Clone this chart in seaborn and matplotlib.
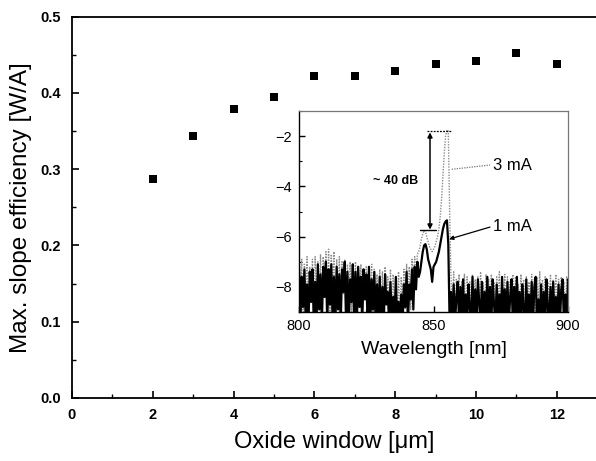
import numpy as np
import pandas as pd
import seaborn as sns
import matplotlib.pyplot as plt
from matplotlib.ticker import MultipleLocator

# ---------------- data ----------------
oxide_window = [2, 3, 4, 5, 6, 7, 8, 9, 10, 11, 12]
slope_efficiency = [0.287, 0.343, 0.379, 0.395, 0.422, 0.422, 0.429, 0.438, 0.442, 0.453, 0.438]

# inset spectra, sampled every 0.5 nm from 800 to 900 nm
wavelength = np.linspace(800, 900, 201)
spec_1mA = [
    -7.2, -9.5, -7.6, -8.8, -7.3, -9.5, -7.9, -9.5, -7.4, -8.6,
    -7.3, -9.5, -7.8, -9.5, -7.1, -8.9, -7.5, -9.5, -7.2, -8.4,
    -7.0, -9.5, -7.3, -8.7, -7.1, -9.5, -7.6, -9.5, -7.2, -8.9,
    -7.5, -9.5, -7.3, -8.2, -7.0, -9.5, -7.4, -9.5, -7.7, -8.6,
    -7.1, -9.5, -7.4, -9.5, -7.2, -8.8, -7.6, -9.5, -7.3, -8.5,
    -7.5, -9.5, -7.2, -9.5, -7.7, -8.9, -7.4, -9.5, -7.9, -9.5,
    -7.6, -9.5, -8.0, -9.5, -7.5, -8.7, -8.2, -9.5, -7.8, -9.5,
    -8.4, -9.5, -7.6, -9.5, -8.6, -9.5, -8.3, -9.5, -7.9, -8.8,
    -7.4, -9.5, -7.9, -8.5, -7.3, -8.9, -7.2, -8.1, -7.0, -7.6,
    -7.4, -7.0, -6.6, -6.35, -6.3, -6.5, -6.9, -7.1, -7.3, -7.8,
    -7.2, -7.1, -7.0, -6.8, -6.6, -6.3, -6.0, -5.7, -5.5, -5.4,
    -5.35, -6.3, -9.5, -8.2, -9.5, -7.9, -9.5, -8.4, -7.8, -9.5,
    -8.0, -9.5, -7.7, -9.5, -8.3, -9.5, -7.9, -8.8, -9.5, -7.6,
    -9.5, -8.1, -9.5, -7.7, -8.6, -9.5, -7.8, -9.5, -8.2, -9.5,
    -7.6, -9.5, -8.0, -9.5, -7.7, -8.7, -9.5, -7.9, -9.5, -8.3,
    -9.5, -7.6, -9.5, -8.1, -9.5, -7.8, -9.5, -8.4, -7.7, -9.5,
    -8.0, -9.5, -7.6, -9.5, -8.2, -9.5, -7.9, -8.9, -9.5, -7.7,
    -9.5, -8.3, -9.5, -7.8, -9.5, -8.0, -7.6, -9.5, -8.5, -9.5,
    -7.9, -9.5, -8.2, -9.5, -7.7, -8.8, -9.5, -8.0, -9.5, -7.8,
    -9.5, -8.4, -9.5, -7.9, -9.5, -8.1, -7.7, -9.5, -8.3, -9.5,
    -7.7,
]
spec_3mA = [
    -7.0, -8.5, -6.9, -9.5, -7.1, -8.0, -6.8, -9.0, -7.2, -8.3,
    -6.9, -9.5, -6.8, -8.4, -7.0, -8.8, -6.7, -9.2, -6.8, -8.1,
    -6.6, -8.6, -6.5, -9.0, -6.7, -8.2, -6.6, -9.5, -6.9, -8.5,
    -6.8, -9.1, -7.0, -8.3, -6.9, -9.5, -7.1, -8.6, -7.0, -9.0,
    -7.2, -8.4, -7.0, -9.5, -7.3, -8.7, -7.1, -9.2, -7.3, -8.5,
    -7.2, -9.5, -7.4, -8.8, -7.1, -9.3, -7.3, -8.6, -7.5, -9.5,
    -7.3, -8.9, -7.4, -9.5, -7.2, -8.7, -7.6, -9.4, -7.3, -9.5,
    -7.5, -8.8, -7.7, -9.5, -7.4, -9.1, -7.6, -8.7, -7.3, -8.9,
    -7.1, -8.4, -7.2, -8.9, -6.9, -7.8, -6.8, -7.5, -6.7, -6.6,
    -6.4, -6.1, -5.9, -5.75, -5.8, -6.0, -6.2, -6.4, -6.5, -6.6,
    -6.5, -6.4, -6.2, -6.0, -5.7, -5.2, -4.5, -3.6, -2.7, -2.0,
    -1.75, -1.8, -5.0, -7.6, -8.9, -7.4, -9.5, -7.7, -8.6, -7.5,
    -9.3, -7.8, -8.4, -7.5, -9.5, -7.6, -8.7, -7.8, -9.1, -7.5,
    -8.5, -7.7, -9.5, -7.6, -8.9, -7.4, -8.6, -7.8, -9.2, -7.5,
    -8.4, -7.7, -9.5, -7.5, -8.8, -7.8, -9.0, -7.6, -8.5, -7.4,
    -9.3, -7.7, -8.6, -7.5, -9.5, -7.6, -8.9, -7.8, -8.4, -7.5,
    -9.1, -7.6, -8.7, -7.9, -9.5, -7.5, -8.6, -7.7, -9.0, -7.6,
    -8.5, -7.8, -9.4, -7.5, -8.8, -7.7, -9.5, -7.6, -8.6, -7.4,
    -9.0, -7.7, -8.5, -7.6, -9.5, -7.8, -8.7, -7.5, -9.2, -7.7,
    -8.6, -7.5, -9.5, -7.7, -8.9, -7.6, -8.4, -7.8, -9.3, -7.6,
    -7.9,
]

main_df = pd.DataFrame({"x": oxide_window, "y": slope_efficiency})
spec_df = pd.DataFrame({"wl": wavelength, "p1": spec_1mA, "p3": spec_3mA})

# ---------------- style ----------------
sns.set_theme(style="ticks")
plt.rcParams["font.family"] = ["Liberation Sans", "DejaVu Sans"]
plt.rcParams["axes.linewidth"] = 1.3
for key in ("text.color", "axes.labelcolor", "xtick.color", "ytick.color",
            "axes.edgecolor"):
    plt.rcParams[key] = "black"

fig = plt.figure(figsize=(5.96, 4.61), dpi=100)
ax = fig.add_axes([0.1208, 0.1367, 0.8792 + 0.002, 0.8271])

sns.scatterplot(data=main_df, x="x", y="y", ax=ax, marker="s", s=40,
                color="black", edgecolor="black", linewidth=0, zorder=3)
ax.set_xlim(0, 13)
ax.set_ylim(0, 0.5)
ax.xaxis.set_major_locator(MultipleLocator(2))
ax.xaxis.set_minor_locator(MultipleLocator(1))
ax.yaxis.set_major_locator(MultipleLocator(0.1))
ax.yaxis.set_minor_locator(MultipleLocator(0.05))
ax.yaxis.set_major_formatter(plt.FuncFormatter(lambda v, p: f"{v:.1f}"))
ax.tick_params(which="major", direction="in", length=5, width=1.2,
               labelsize=10.5, pad=7)
ax.tick_params(which="minor", direction="in", length=3, width=1.0)
ax.tick_params(axis="y", which="major", pad=8)
for lab in ax.get_xticklabels() + ax.get_yticklabels():
    lab.set_fontweight("bold")
ax.spines["right"].set_visible(False)
ax.set_xlabel("Oxide window [μm]", fontsize=17, labelpad=7)
ax.set_ylabel("Max. slope efficiency [W/A]", fontsize=17.5, labelpad=6)

# ---------------- inset ----------------
ins = fig.add_axes([0.5017, 0.3232, 0.4513, 0.436])
sns.lineplot(data=spec_df, x="wl", y="p3", ax=ins, color="#8c8c8c",
             linestyle=(0, (1, 1)), linewidth=1.0, estimator=None, sort=False)
sns.lineplot(data=spec_df, x="wl", y="p1", ax=ins, color="black",
             linewidth=1.6, estimator=None, sort=False)
ins.set_xlim(800, 900)
ins.set_ylim(-9, -1)
ins.xaxis.set_major_locator(MultipleLocator(50))
ins.xaxis.set_minor_locator(MultipleLocator(25))
ins.yaxis.set_major_locator(MultipleLocator(2))
ins.yaxis.set_minor_locator(MultipleLocator(1))
ins.tick_params(which="major", direction="in", length=4, width=1.0,
                labelsize=10.5, pad=5)
ins.tick_params(which="minor", direction="in", length=2.5, width=0.8)
ins.set_xlabel("Wavelength [nm]", fontsize=14, labelpad=6)
ins.set_ylabel("")
for side in ("top", "right"):
    ins.spines[side].set_color("#777777")
    ins.spines[side].set_linewidth(0.9)
ins.spines["left"].set_linewidth(1.0)
ins.spines["bottom"].set_linewidth(1.0)

# annotations
ins.plot([847.5, 856.5], [-1.8, -1.8], color="black", linestyle=(0, (1.5, 1)), lw=0.9)
ins.plot([845.0, 850.8], [-5.72, -5.72], color="black", lw=1.0)
ins.annotate("", xy=(848.7, -1.85), xytext=(848.7, -5.72),
             arrowprops=dict(arrowstyle="<|-|>", color="black", lw=1.1,
                             mutation_scale=7, shrinkA=0, shrinkB=0))
ins.text(836.0, -3.8, "~ 40 dB", fontsize=9, fontweight="bold",
         ha="center", va="center")
ins.plot([856.8, 871.0], [-3.32, -3.15], color="#777777", linestyle=(0, (1, 1)), lw=0.9)
ins.text(872.0, -3.15, "3 mA", fontsize=12, ha="left", va="center")
ins.annotate("", xy=(855.8, -6.1), xytext=(871.0, -5.62),
             arrowprops=dict(arrowstyle="-|>", color="black", lw=0.9,
                             mutation_scale=6, shrinkA=0, shrinkB=0))
ins.text(872.0, -5.6, "1 mA", fontsize=12, ha="left", va="center")

fig.savefig("out.png", dpi=100)
